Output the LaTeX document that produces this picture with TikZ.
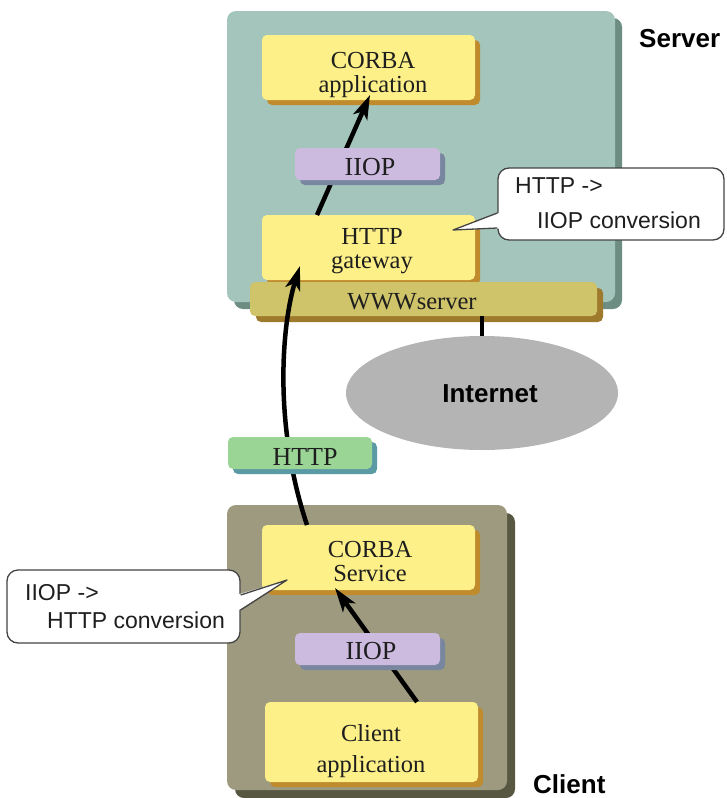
\documentclass[tikz,border=0pt]{standalone}
\usepackage{fontspec}
\setmainfont{Liberation Serif}
\newfontfamily\helv{Liberation Sans}
\usetikzlibrary{shadows,arrows.meta,shapes.geometric}

\definecolor{srvface}{HTML}{A4C5BB}
\definecolor{srvshade}{HTML}{6D8D83}
\definecolor{cliface}{HTML}{9D9A80}
\definecolor{clishade}{HTML}{585742}
\definecolor{yelface}{HTML}{FDF088}
\definecolor{yelshade}{HTML}{C08B2C}
\definecolor{lavface}{HTML}{CCBADF}
\definecolor{lavshade}{HTML}{7886A0}
\definecolor{grnface}{HTML}{9AD596}
\definecolor{grnshade}{HTML}{5B9AA4}
\definecolor{wwwface}{HTML}{CFC46A}
\definecolor{wwwshade}{HTML}{9E7A2D}
\definecolor{netgray}{HTML}{B4B4B4}
\definecolor{ink}{HTML}{1E1E1E}
\definecolor{callborder}{HTML}{444444}

\tikzset{
  panel/.style={rounded corners=9pt, inner sep=0pt, draw=none},
  srvpanel/.style={panel, fill=srvface,
    general shadow={fill=srvshade, shadow xshift=7pt, shadow yshift=-7pt}},
  clipanel/.style={panel, fill=cliface,
    general shadow={fill=clishade, shadow xshift=8pt, shadow yshift=-8pt}},
  block/.style={rounded corners=5pt, inner sep=0pt, draw=none},
  ybox/.style={block, fill=yelface,
    general shadow={fill=yelshade, shadow xshift=5pt, shadow yshift=-5pt}},
  lbox/.style={block, fill=lavface,
    general shadow={fill=lavshade, shadow xshift=5pt, shadow yshift=-5pt}},
  gbox/.style={block, fill=grnface,
    general shadow={fill=grnshade, shadow xshift=5pt, shadow yshift=-5pt}},
  wbox/.style={block, fill=wwwface,
    general shadow={fill=wwwshade, shadow xshift=6pt, shadow yshift=-6pt}},
  blocktext/.style={inner sep=0pt, align=center, text=ink,
    font=\fontsize{24.5}{24}\selectfont},
  tagtext/.style={inner sep=0pt, text=ink, font=\fontsize{26}{26}\selectfont},
  flow/.style={line width=4.5pt, draw=black,
    -{Stealth[length=24pt,width=15pt,inset=6pt]}},
  calloutbox/.style={draw=callborder, line width=1.3pt, fill=white,
    rounded corners=11pt, inner sep=0pt},
  callouttext/.style={anchor=base west, inner sep=0pt, text=ink,
    font=\helv\fontsize{23}{23}\selectfont},
  bigtag/.style={anchor=base west, inner sep=0pt, text=black,
    font=\helv\bfseries\fontsize{26}{26}\selectfont},
}

\begin{document}
\begin{tikzpicture}[x=1pt,y=-1pt]
\useasboundingbox (0,0) rectangle (726,798);

% host panels
\node[srvpanel, minimum width=388pt, minimum height=291pt] (server) at (421,156.5) {};
\node[clipanel, minimum width=280pt, minimum height=285pt] (client) at (367,647.5) {};

% server side software
\node[ybox, minimum width=213pt, minimum height=65pt] (capp) at (368.5,67.5) {};
\node[blocktext] (capptext) at (373,75) {CORBA\\application};
\node[ybox, minimum width=213pt, minimum height=65pt] (gw) at (368.5,247.5) {};
\node[blocktext] (gwtext) at (372,251) {HTTP\\gateway};
\node[wbox, minimum width=347pt, minimum height=34pt] (www) at (423.5,299) {};
\node[blocktext] (wwwtext) at (412,302) {WWWserver};

% network
\node[ellipse, fill=netgray, inner sep=0pt, minimum width=272pt, minimum height=114pt] (inet) at (482,393) {};
\node[inner sep=0pt, font=\helv\bfseries\fontsize{26}{26}\selectfont] (inettext) at (490,394) {Internet};
\draw[line width=4pt] (www.south -| inet.north) -- (inet.north);

% client side software
\node[ybox, minimum width=213pt, minimum height=65pt] (csvc) at (368.5,557.5) {};
\node[blocktext] (csvctext) at (370,562) {CORBA\\Service};
\node[ybox, minimum width=213pt, minimum height=80pt] (capl) at (371.5,742) {};
\node[blocktext] (capltext) at (371,751) {Client\\[7pt]application};

% request path
\coordinate (clstart) at (417,702);
\coordinate (svctip) at (335,588);
\coordinate (svctop) at (307,525);
\coordinate (gwtip) at (300,266);
\coordinate (gwtop) at (317,215);
\coordinate (apptip) at (370,95);
\draw[flow] (clstart) -- (svctip);
\draw[flow] (svctop) .. controls (272,420) and (283,320) .. (gwtip);
\draw[flow] (gwtop) -- (apptip);

% protocol labels on the path
\node[lbox, minimum width=145pt, minimum height=32pt] (iioptop) at (367.5,164) {};
\node[tagtext] (iioptoptext) at (370,167) {IIOP};
\node[gbox, minimum width=144pt, minimum height=32pt] (http) at (300,453) {};
\node[tagtext] (httptext) at (305,457) {HTTP};
\node[lbox, minimum width=145pt, minimum height=32pt] (iiopbot) at (367.5,649) {};
\node[tagtext] (iiopbottext) at (371,651) {IIOP};

% callout: gateway conversion
\node[calloutbox, minimum width=226pt, minimum height=72pt] (callsrv) at (611,204) {};
\coordinate (callsrvtip) at (453,230);
\fill[white] (500,212.5) -- (callsrvtip) -- (500,228.5) -- cycle;
\draw[callborder, line width=1.3pt, line join=round] (callsrv.west |- 0,213) -- (callsrvtip) -- (callsrv.west |- 0,228);
\node[callouttext] (csl1) at (515,193) {HTTP ->};
\node[callouttext] (csl2) at (537,228) {IIOP conversion};

% callout: client conversion
\node[calloutbox, minimum width=233pt, minimum height=73pt] (callcli) at (123.5,606.5) {};
\coordinate (callclitip) at (287,580);
\fill[white] (238,594.5) -- (callclitip) -- (238,610.5) -- cycle;
\draw[callborder, line width=1.3pt, line join=round] (callcli.east |- 0,595) -- (callclitip) -- (callcli.east |- 0,610);
\node[callouttext] (ccl1) at (25,600) {IIOP ->};
\node[callouttext] (ccl2) at (47,628) {HTTP conversion};

% host names
\node[bigtag] (srvname) at (639,47) {Server};
\node[bigtag] (cliname) at (533,793) {Client};
\end{tikzpicture}
\end{document}
